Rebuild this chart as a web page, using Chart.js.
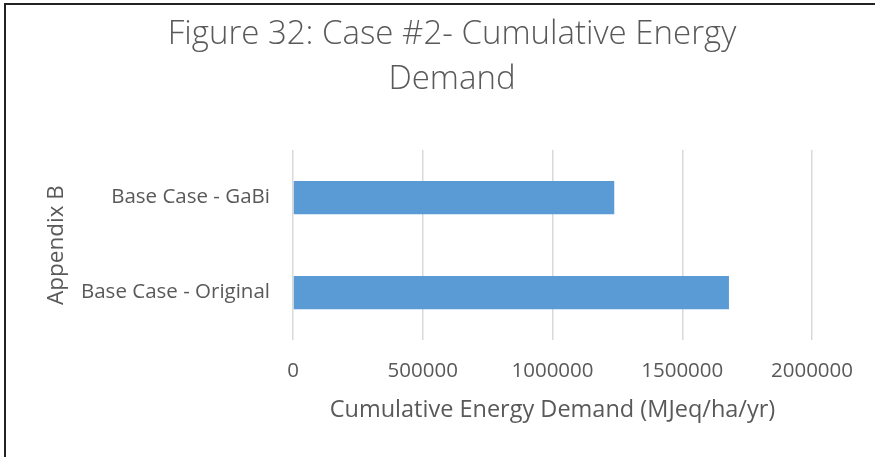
<!DOCTYPE html>
<html>
<head>
<meta charset="utf-8">
<script src="https://cdn.jsdelivr.net/npm/chart.js@4.4.1/dist/chart.umd.min.js"></script>
<style>
  html, body { margin: 0; padding: 0; background: #fff; }
  #wrap { position: relative; width: 875px; height: 457px; }
  #frame { position: absolute; left: 4px; top: 3px; right: -10px; bottom: -10px;
           border-left: 2px solid #222; border-top: 2px solid #222; pointer-events: none; }
  canvas { position: absolute; left: 0; top: 0; }
</style>
</head>
<body>
<div id="wrap">
  <canvas id="chart" width="875" height="457"></canvas>
  <div id="frame"></div>
</div>
<script>
const categories = ['Base Case - GaBi', 'Base Case - Original']
const energyDemand = [1238000, 1680000]
const xTicks = [0, 500000, 1000000, 1500000, 2000000]
const titleLines = ['Figure 32: Case #2- Cumulative Energy', 'Demand']

const textColor = '#595959'
const font = 'Open Sans'

const ctx = document.getElementById('chart').getContext('2d')
new Chart(ctx, {
  type: 'bar',
  data: {
    labels: categories,
    datasets: [{
      label: 'Cumulative Energy Demand',
      data: energyDemand,
      backgroundColor: '#5b9bd5',
      borderWidth: 0,
      categoryPercentage: 1,
      barPercentage: 0.35
    }]
  },
  options: {
    indexAxis: 'y',
    responsive: false,
    animation: false,
    // title is centred on the whole width, plot right edge comes from x axis padding
    layout: { padding: { left: 29, right: 0, top: 0, bottom: 0 } },
    plugins: {
      legend: { display: false },
      tooltip: { enabled: false },
      title: {
        display: true,
        text: titleLines,
        color: textColor,
        font: { family: font, size: 33, weight: '300', lineHeight: 45 / 33 },
        padding: { top: 11.7, bottom: 48.3 }
      }
    },
    scales: {
      x: {
        min: 0,
        max: 2000000,
        afterBuildTicks: axis => { axis.ticks = xTicks.map(v => ({ value: v })) },
        afterFit: axis => {
          axis.height = 117
          axis.paddingRight = 63
        },
        grid: { color: '#d9d9d9', lineWidth: 1.5, drawTicks: false },
        border: { display: false },
        ticks: {
          color: textColor,
          padding: 18.7,
          font: { family: font, size: 20.5 },
          callback: v => String(v)
        },
        title: {
          display: true,
          text: 'Cumulative Energy Demand (MJeq/ha/yr)',
          color: textColor,
          font: { family: font, size: 23.5 },
          padding: { top: 0, bottom: 33 }
        }
      },
      y: {
        afterFit: axis => { axis.width = 264 },
        grid: { display: false, drawTicks: false },
        border: { display: false },
        ticks: {
          color: textColor,
          padding: 23,
          font: { family: font, size: 20.5 }
        },
        title: {
          display: true,
          text: 'Appendix B',
          color: textColor,
          font: { family: font, size: 22.5 },
          padding: { top: 14.5, bottom: 0 }
        }
      }
    }
  }
})
</script>
</body>
</html>
